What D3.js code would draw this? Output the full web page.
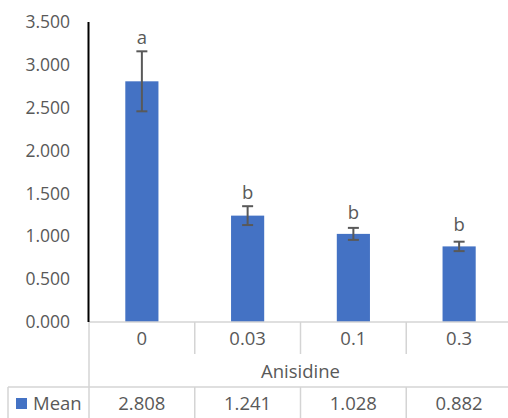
<!DOCTYPE html>
<html>
<head>
<meta charset="utf-8">
<script src="https://cdn.jsdelivr.net/npm/d3@7"></script>
<style>
  html, body { margin: 0; padding: 0; background: #fff; }
  svg { display: block; font-family: "Open Sans", "Noto Sans", sans-serif; }
</style>
</head>
<body>
<div id="chart"></div>
<script>
// ---- data ----
const categories = ["0", "0.03", "0.1", "0.3"];
const means = [2.808, 1.241, 1.028, 0.882];
const meanLabels = ["2.808", "1.241", "1.028", "0.882"];
const errors = [0.35, 0.11, 0.07, 0.055];
const letters = ["a", "b", "b", "b"];
const yTicks = [0, 0.5, 1.0, 1.5, 2.0, 2.5, 3.0, 3.5];
const axisTitle = "Anisidine";
const seriesName = "Mean";

// ---- layout ----
const W = 508, H = 418;
const plotLeft = 89, plotRight = 512, plotTop = 22, plotBottom = 322;
const row1Bottom = 354, row2Bottom = 387;
const tableLeft = 8;
const textColor = "#595959";
const gridColor = "#d4d4d4";
const barColor = "#4472C4";
const fontSize = 18.5;
const tickFontSize = 17.5;

const svg = d3.select("#chart").append("svg").attr("width", W).attr("height", H);

const x = d3.scaleBand().domain(categories).range([plotLeft, plotRight]).paddingInner(0).paddingOuter(0);
const y = d3.scaleLinear().domain([0, 3.5]).range([plotBottom, plotTop]);
const barW = x.bandwidth() / 3.19;

// y tick labels
const yAxis = d3.axisLeft(y).tickValues(yTicks).tickFormat(d3.format(".3f")).tickSize(0).tickPadding(0);
const gy = svg.append("g").attr("transform", `translate(${70},0)`).call(yAxis);
gy.select(".domain").remove();
gy.selectAll("text").attr("fill", textColor).style("font-size", tickFontSize + "px").style("font-family", "'Open Sans', sans-serif");

// bars
svg.append("g").selectAll("rect").data(categories).join("rect")
  .attr("x", d => x(d) + x.bandwidth() / 2 - barW / 2)
  .attr("y", (d, i) => y(means[i]))
  .attr("width", barW)
  .attr("height", (d, i) => y(0) - y(means[i]))
  .attr("fill", barColor);

// error bars
const eg = svg.append("g").attr("stroke", "#595959").attr("stroke-width", 2);
categories.forEach((c, i) => {
  const cx = x(c) + x.bandwidth() / 2;
  const top = y(means[i] + errors[i]), bot = y(means[i] - errors[i]);
  eg.append("line").attr("x1", cx).attr("x2", cx).attr("y1", top).attr("y2", bot);
  eg.append("line").attr("x1", cx - 5.5).attr("x2", cx + 5.5).attr("y1", top).attr("y2", top);
  eg.append("line").attr("x1", cx - 5.5).attr("x2", cx + 5.5).attr("y1", bot).attr("y2", bot);
});

// significance letters
svg.append("g").selectAll("text").data(categories).join("text")
  .attr("x", d => x(d) + x.bandwidth() / 2)
  .attr("y", (d, i) => Math.min(y(means[i]) - 15, y(means[i] + errors[i]) - 7))
  .attr("text-anchor", "middle")
  .attr("fill", textColor)
  .style("font-size", fontSize + "px")
  .text((d, i) => letters[i]);

// data table grid
const grid = svg.append("g").attr("stroke", gridColor).attr("stroke-width", 1.5).attr("fill", "none");
grid.append("line").attr("x1", plotLeft).attr("x2", W).attr("y1", plotBottom).attr("y2", plotBottom);
grid.append("line").attr("x1", plotLeft).attr("x2", plotLeft).attr("y1", plotBottom).attr("y2", H);
grid.append("line").attr("x1", tableLeft).attr("x2", W).attr("y1", row2Bottom).attr("y2", row2Bottom);
grid.append("line").attr("x1", tableLeft).attr("x2", tableLeft).attr("y1", row2Bottom).attr("y2", H);
categories.slice(1).forEach(c => {
  const xx = x(c);
  grid.append("line").attr("x1", xx).attr("x2", xx).attr("y1", plotBottom).attr("y2", row1Bottom);
  grid.append("line").attr("x1", xx).attr("x2", xx).attr("y1", row2Bottom).attr("y2", H);
});

// y axis line
svg.append("line").attr("x1", plotLeft - 0.5).attr("x2", plotLeft - 0.5).attr("y1", plotTop).attr("y2", plotBottom)
  .attr("stroke", "#000").attr("stroke-width", 2);

// category labels
svg.append("g").selectAll("text").data(categories).join("text")
  .attr("x", d => x(d) + x.bandwidth() / 2)
  .attr("y", (plotBottom + row1Bottom) / 2 + 1)
  .attr("dy", "0.35em")
  .attr("text-anchor", "middle")
  .attr("fill", textColor)
  .style("font-size", fontSize + "px")
  .text(d => d);

// axis title (centered in the visible table width)
svg.append("text")
  .attr("x", (plotLeft + W) / 2 + 2)
  .attr("y", (row1Bottom + row2Bottom) / 2 + 1)
  .attr("dy", "0.35em")
  .attr("text-anchor", "middle")
  .attr("fill", textColor)
  .style("font-size", fontSize + "px")
  .text(axisTitle);

// values row
svg.append("g").selectAll("text").data(categories).join("text")
  .attr("x", d => x(d) + x.bandwidth() / 2)
  .attr("y", (row2Bottom + H) / 2 + 1)
  .attr("dy", "0.35em")
  .attr("text-anchor", "middle")
  .attr("fill", textColor)
  .style("font-size", fontSize + "px")
  .text((d, i) => meanLabels[i]);

// legend key
svg.append("rect").attr("x", 16).attr("y", 398).attr("width", 11).attr("height", 11).attr("fill", barColor);
svg.append("text").attr("x", 33).attr("y", (row2Bottom + H) / 2 + 1).attr("dy", "0.35em")
  .attr("fill", textColor).style("font-size", fontSize + "px").text(seriesName);
</script>
</body>
</html>
